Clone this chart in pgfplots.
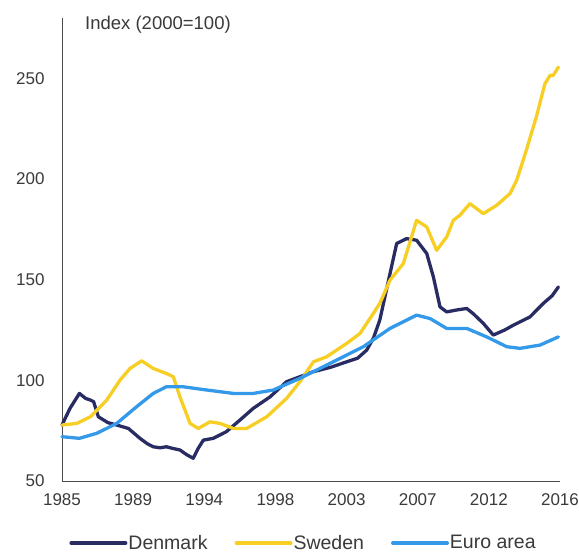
\documentclass[border=0pt]{standalone}
\usepackage{pgfplots}
\pgfplotsset{compat=1.18}
\usepackage{fontspec}
\setmainfont{Liberation Sans}
\definecolor{dk}{HTML}{282C62}
\definecolor{se}{HTML}{F7CF24}
\definecolor{ea}{HTML}{3399E8}
\definecolor{txt}{HTML}{3A3A3A}
\begin{document}
\begin{tikzpicture}
\begin{axis}[
  scale only axis,
  width=498pt, height=463pt,
  xmin=1985, xmax=2016.5,
  ymin=50, ymax=280,
  axis x line*=bottom, axis y line*=left,
  axis line style={-, draw=black!70, line width=0.9pt},
  major tick length=0pt,
  xtick={1985,1989.5,1994,1998.5,2003,2007.5,2012,2016.5},
  xticklabels={1985,1989,1994,1998,2003,2007,2012,2016},
  ytick={50,100,150,200,250},
  /pgf/number format/assume math mode=true,
  tick label style={font=\fontsize{17}{20}\selectfont, text=txt},
  yticklabel style={xshift=-14pt},
  xticklabel style={yshift=-9pt},
  legend style={draw=none, at={(0.484,-0.134)}, anchor=center,
    font=\fontsize{19.5}{22}\selectfont, text=txt, inner sep=0pt,
    nodes={inner sep=1pt},
    legend columns=3, column sep=0pt,
    /tikz/every even column/.append style={column sep=26pt}},
  legend image code/.code={\draw[#1, line width=4pt] (0pt,0pt) -- (54pt,0pt);},
  every axis plot/.append style={line width=3.3pt, line join=round, line cap=round},
  clip=false,
]
\addplot[dk] coordinates {
(1985.0,77.8) (1985.5,86) (1986.1,93.5) (1986.5,91) (1986.8,90.2) (1987.0,89.4)
(1987.3,81.9) (1987.9,79) (1988.46,77.8) (1989.2,76.1) (1989.93,71.2) (1990.4,68.5)
(1990.77,67.0) (1991.2,66.5) (1991.6,67.0) (1992.0,66.2) (1992.46,65.4) (1992.9,63)
(1993.3,61.3) (1993.6,66) (1993.94,70.3) (1994.57,71.2) (1995.4,74.5) (1996.26,80.3)
(1997.1,86.1) (1998.16,91.8) (1999.2,99.3) (2000.05,101.8) (2000.9,104.3) (2002.0,106.5)
(2003.0,109.2) (2003.7,111) (2004.27,115.0) (2004.7,121) (2005.1,129.9) (2005.75,153.1)
(2006.17,168.0) (2006.8,170.4) (2007.43,169.6) (2008.07,163.0) (2008.49,151.4)
(2008.91,136.5) (2009.33,134.0) (2010.0,135) (2010.6,135.7) (2011.0,133.2)
(2011.65,128.3) (2012.28,122.5) (2013.0,125) (2013.55,127.4) (2014.6,131.5)
(2015.44,138.2) (2016.0,142) (2016.4,146.4)};
\addlegendentry{Denmark}
\addplot[se] coordinates {
(1985.0,77.8) (1985.93,78.6) (1986.8,81.9) (1987.83,90.2) (1988.67,100.1) (1989.3,105.9)
(1990.04,109.7) (1990.77,105.9) (1991.6,103.4) (1992.04,101.8) (1992.46,91.8)
(1993.1,78.6) (1993.62,76.1) (1994.36,79.4) (1995.0,78.6) (1995.84,76.1) (1996.68,76.1)
(1997.95,81.9) (1999.2,91.0) (2000.05,99.3) (2000.9,109.2) (2001.74,111.7) (2003.0,118.3)
(2003.85,123.3) (2004.69,133.2) (2005.1,138.2) (2005.75,149.8) (2006.59,158.0)
(2007.43,179.5) (2008.07,176.2) (2008.7,164.6) (2009.33,171.2) (2009.75,179.5)
(2010.17,182.0) (2010.8,187.8) (2011.65,182.8) (2012.5,187.0) (2013.34,192.8)
(2013.76,199.4) (2014.37,214.3) (2015.0,230.8) (2015.55,247.4) (2015.87,251.5)
(2016.07,251.5) (2016.4,255.6)};
\addlegendentry{Sweden}
\addplot[ea] coordinates {
(1985.0,72.0) (1986.1,71.2) (1987.2,73.7) (1988.46,78.6) (1989.72,86.9) (1990.77,93.5)
(1991.6,96.8) (1992.67,96.8) (1994.15,95.2) (1995.84,93.5) (1997.1,93.5) (1998.37,95.2)
(2000.05,101.0) (2001.95,108.4) (2004.06,116.7) (2005.75,125.8) (2007.43,132.4)
(2008.28,130.7) (2009.33,125.8) (2010.6,125.8) (2011.86,121.6) (2013.13,116.7)
(2013.97,115.9) (2015.23,117.5) (2016.4,121.6)};
\addlegendentry{Euro area}
\node[anchor=west, font=\fontsize{18.5}{21}\selectfont, text=txt, inner sep=0pt]
  at (rel axis cs:0,1) [xshift=23pt, yshift=-7pt] {Index (2000=100)};
\end{axis}
\pgfresetboundingbox
\path (-62pt,-75pt) rectangle (517pt,481pt);
\end{tikzpicture}
\end{document}
